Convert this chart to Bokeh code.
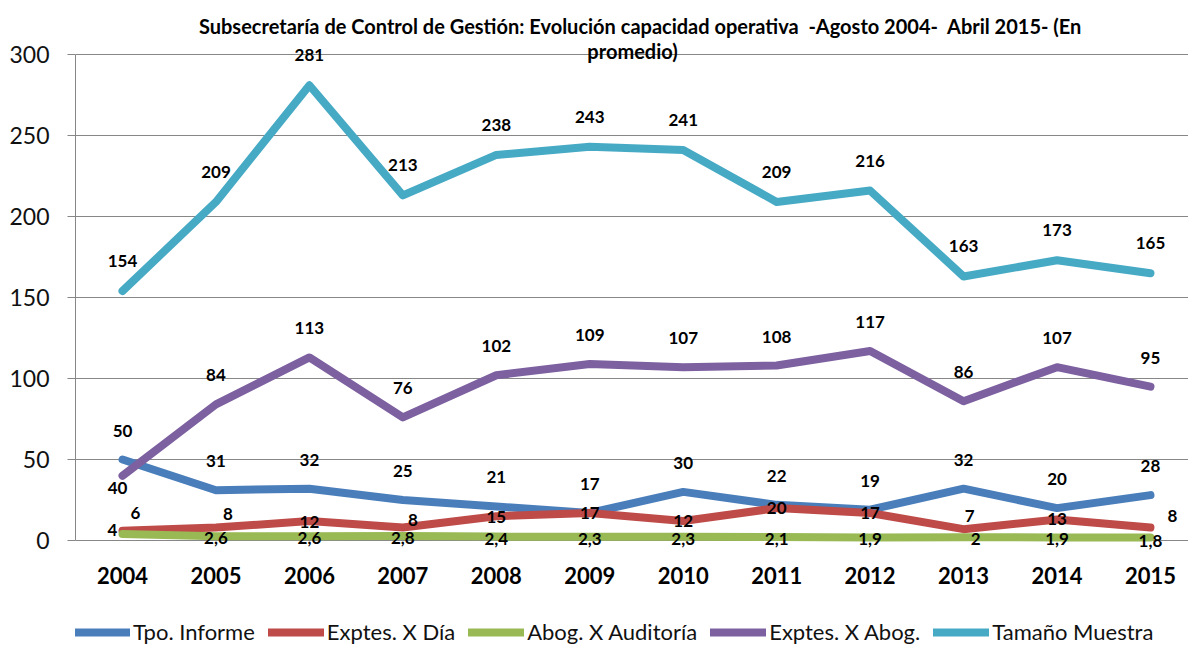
from bokeh.plotting import figure
from bokeh.models import (ColumnDataSource, Range1d, FixedTicker, Label, Legend,
                          LegendItem)
from bokeh.core.properties import value
from bokeh.embed import file_html
from bokeh.resources import INLINE

# ---------------- data ----------------
years = [2004, 2005, 2006, 2007, 2008, 2009, 2010, 2011, 2012, 2013, 2014, 2015]
year_labels = [str(y) for y in years]
tpo_informe = [50, 31, 32, 25, 21, 17, 30, 22, 19, 32, 20, 28]
exptes_dia = [6, 8, 12, 8, 15, 17, 12, 20, 17, 7, 13, 8]
abog_auditoria = [4, 2.6, 2.6, 2.8, 2.4, 2.3, 2.3, 2.1, 1.9, 2, 1.9, 1.8]
exptes_abog = [40, 84, 113, 76, 102, 109, 107, 108, 117, 86, 107, 95]
tamano_muestra = [154, 209, 281, 213, 238, 243, 241, 209, 216, 163, 173, 165]
y_ticks = [0, 50, 100, 150, 200, 250, 300]
series_names = ["Tpo. Informe", "Exptes. X Día", "Abog. X Auditoría",
                "Exptes. X Abog.", "Tamaño Muestra"]
title_line1 = "Subsecretaría de Control de Gestión: Evolución capacidad operativa  -Agosto 2004-  Abril 2015- (En"
title_line2 = "promedio)"

# ---------------- style ----------------
colors = ["#4A7EBB", "#BE4B48", "#98B954", "#7D60A0", "#46AAC5"]
FONT = "Lato"
GRID = "#878787"

# label nudges in screen pixels (dx, dy; dy positive = down)
nudges = [
    ([0] * 12, [-29] * 12),
    ([13, 12, 0, 10, 0, 0, 0, 0, 0, 6, 0, 22],
     [-18, -14, 1, -8, 1, 0, 0, 0, 0, -13, 0, -12]),
    ([-10, 0, 0, 0, 0, 0, 0, 0, 0, 12, 0, 0],
     [-4, 2, 2, 2, 2, 2, 2, 2, 2, 2, 2, 3]),
    ([-5] + [0] * 11, [12] + [-29] * 11),
    ([0] * 12, [-30] * 12),
]

series = [tpo_informe, exptes_dia, abog_auditoria, exptes_abog, tamano_muestra]

W, H = 1188, 646
px_per_unit = 1.62
zero_px = 540          # screen y of value 0
y_top = zero_px / px_per_unit
y_bottom = -(H - zero_px) / px_per_unit

p = figure(width=W, height=H,
           x_range=Range1d(2003.497, 2015.407),
           y_range=Range1d(y_bottom, y_top),
           x_axis_location=None,
           output_backend="svg", toolbar_location=None,
           min_border_left=75, min_border_right=0, min_border_top=0,
           min_border_bottom=0)
p.outline_line_color = None
p.background_fill_color = "white"
p.border_fill_color = "white"

# y axis
p.yaxis.ticker = FixedTicker(ticks=y_ticks)
p.yaxis.bounds = (y_ticks[0], y_ticks[-1])
p.yaxis.axis_line_color = GRID
p.yaxis.major_tick_line_color = GRID
p.yaxis.major_tick_out = 8
p.yaxis.major_tick_in = 0
p.yaxis.minor_tick_line_color = None
p.yaxis.major_label_standoff = 18
p.yaxis.major_label_text_font = FONT
p.yaxis.major_label_text_font_size = "23px"
p.yaxis.major_label_text_color = "#111111"

p.xgrid.grid_line_color = None
p.ygrid.grid_line_color = GRID
p.ygrid.grid_line_width = 1

# category (year) labels under the 0 line
p.text(x=years, y=[y_ticks[0]] * len(years), text=year_labels, y_offset=35,
       text_font=value(FONT), text_font_style="bold", text_font_size="22px",
       text_color="#000000", text_align="center", text_baseline="middle")

# lines
items = []
for name, vals, col in zip(series_names, series, colors):
    r = p.line(years, vals, line_color=col, line_width=8,
               line_cap="round", line_join="round")
    items.append(LegendItem(label=name, renderers=[r]))

# data labels
def fmt(v):
    return f"{v:g}".replace(".", ",")

for vals, (dx, dy) in zip(series, nudges):
    src = ColumnDataSource(dict(x=years, y=vals, t=[fmt(v) for v in vals],
                                dx=dx, dy=dy))
    p.text(x="x", y="y", text="t", x_offset="dx", y_offset="dy", source=src,
           text_font=value(FONT), text_font_style="bold",
           text_font_size="17px", text_color="#000000",
           text_align="center", text_baseline="middle")

# title (two centred lines)
p.add_layout(Label(x=565, y=H - 25, x_units="screen", y_units="screen",
                   text=title_line1.replace("  ", "\u00a0 "), text_font=FONT,
                   text_font_style="bold", text_font_size="20px",
                   text_align="center", text_baseline="middle",
                   text_color="#000000"))
p.add_layout(Label(x=557, y=H - 50, x_units="screen", y_units="screen",
                   text=title_line2, text_font=FONT, text_font_style="bold",
                   text_font_size="20px", text_align="center",
                   text_baseline="middle", text_color="#000000"))

# legend along the bottom edge
legend = Legend(items=items, orientation="horizontal", location=(-1, 1),
                glyph_width=56, glyph_height=24, label_standoff=3, spacing=13,
                padding=0, margin=0, border_line_color=None,
                background_fill_alpha=0,
                label_text_font=FONT, label_text_font_size="22px",
                label_text_color="#111111", label_height=24)
p.add_layout(legend, "center")

open("out.html", "w").write(file_html(p, INLINE))
